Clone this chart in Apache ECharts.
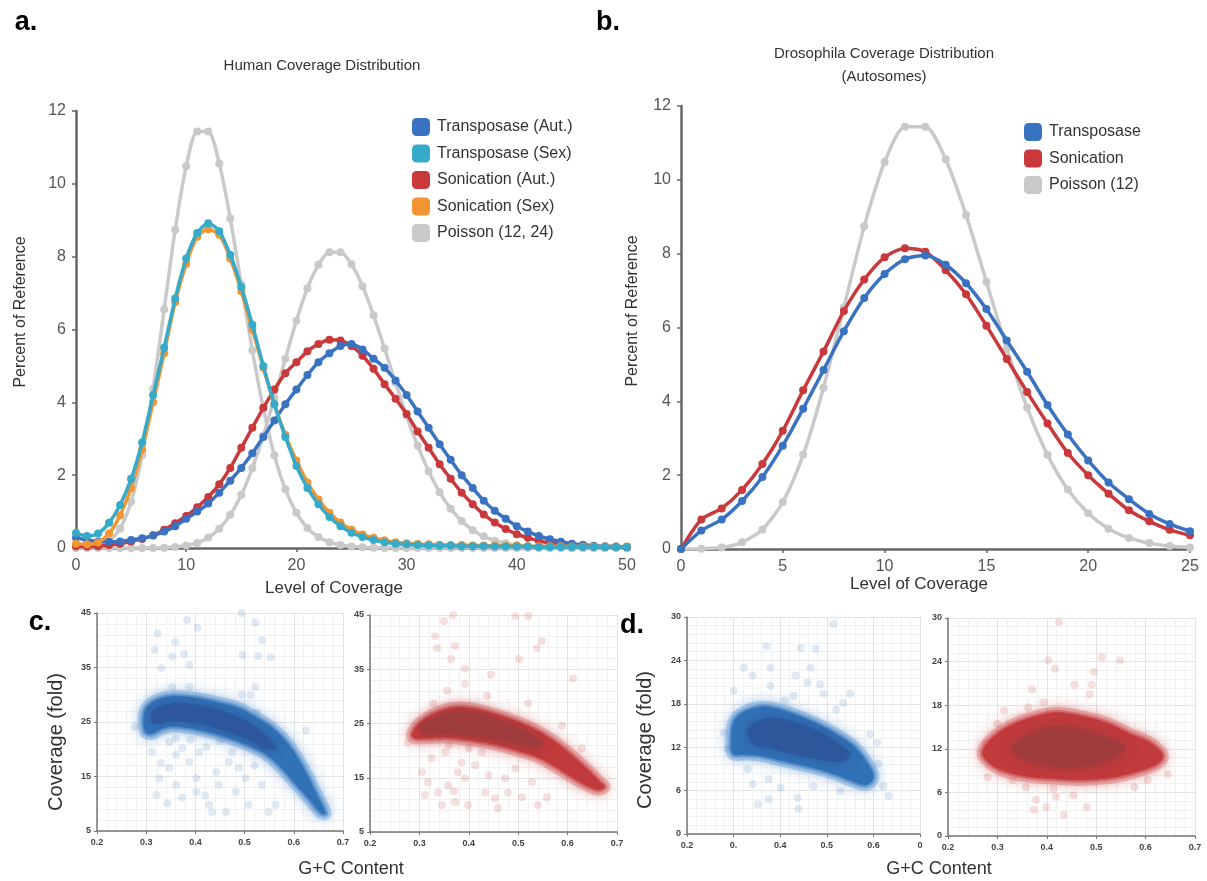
<!DOCTYPE html>
<html>
<head>
<meta charset="utf-8">
<script src="https://cdn.jsdelivr.net/npm/echarts@6/dist/echarts.min.js"></script>
<style>html,body{margin:0;padding:0;background:#fff}#c{width:1207px;height:881px}</style>
</head>
<body>
<div id="c"></div>
<script>
// ---------- DATA ----------
const levelsA = [0,1,2,3,4,5,6,7,8,9,10,11,12,13,14,15,16,17,18,19,20,21,22,23,24,25,26,27,28,29,30,31,32,33,34,35,36,37,38,39,40,41,42,43,44,45,46,47,48,49,50];
const transAut = [0.28,0.22,0.18,0.17,0.18,0.22,0.27,0.34,0.45,0.60,
  0.80,1.00,1.22,1.52,1.85,2.20,2.60,3.05,3.50,3.95,
  4.35,4.75,5.10,5.35,5.55,5.60,5.45,5.20,4.95,4.60,
  4.20,3.75,3.30,2.85,2.42,2.00,1.65,1.30,1.02,0.80,
  0.60,0.45,0.33,0.24,0.17,0.12,0.09,0.06,0.05,0.04,0.03];
const transSex = [0.41,0.33,0.40,0.69,1.18,1.90,2.90,4.20,5.50,6.85,
  7.95,8.65,8.92,8.70,8.05,7.17,6.13,5.00,3.95,3.05,
  2.25,1.65,1.20,0.85,0.60,0.42,0.30,0.22,0.16,0.12,
  0.10,0.08,0.07,0.06,0.06,0.05,0.05,0.05,0.04,0.04,
  0.04,0.04,0.03,0.03,0.03,0.03,0.03,0.03,0.03,0.03,0.03];
const sonAut = [0.05,0.04,0.05,0.08,0.12,0.18,0.25,0.35,0.50,0.68,
  0.88,1.12,1.40,1.75,2.20,2.75,3.30,3.85,4.35,4.80,
  5.10,5.40,5.60,5.72,5.70,5.55,5.28,4.92,4.50,4.10,
  3.68,3.20,2.75,2.30,1.90,1.52,1.20,0.92,0.70,0.52,
  0.38,0.28,0.20,0.14,0.10,0.07,0.05,0.04,0.03,0.03,0.02];
const sonSex = [0.12,0.10,0.15,0.40,0.90,1.65,2.70,4.00,5.35,6.75,
  7.80,8.55,8.75,8.60,7.95,7.05,6.00,4.95,3.95,3.10,
  2.40,1.80,1.33,0.97,0.70,0.50,0.37,0.28,0.21,0.16,
  0.13,0.11,0.10,0.09,0.08,0.08,0.07,0.07,0.06,0.06,
  0.06,0.05,0.05,0.05,0.05,0.04,0.04,0.04,0.04,0.04,0.04];
const poisson12 = [0.00,0.01,0.04,0.18,0.53,1.27,2.55,4.37,6.55,8.74,
  10.48,11.44,11.44,10.56,9.05,7.24,5.43,3.83,2.55,1.61,
  0.97,0.55,0.30,0.16,0.08,0.04,0.02,0.01,0.00,0.00,
  0,0,0,0,0,0,0,0,0,0,
  0,0,0,0,0,0,0,0,0,0,0];
const poisson24 = [0,0,0,0,0,0,0,0.00,0.01,0.03,
  0.07,0.14,0.29,0.53,0.91,1.46,2.19,3.09,4.12,5.20,
  6.24,7.13,7.78,8.12,8.12,7.79,7.19,6.39,5.48,4.54,
  3.63,2.81,2.11,1.53,1.08,0.74,0.49,0.32,0.20,0.13,
  0.08,0.04,0.03,0.01,0.01,0.00,0,0,0,0,0];

const levelsB = [0,1,2,3,4,5,6,7,8,9,10,11,12,13,14,15,16,17,18,19,20,21,22,23,24,25];
const transB = [0,0.50,0.80,1.30,1.95,2.80,3.80,4.85,5.90,6.80,7.45,7.85,7.95,7.70,7.20,6.50,5.65,4.80,3.90,3.10,2.40,1.80,1.35,0.95,0.68,0.48];
const sonB = [0,0.80,1.10,1.60,2.30,3.20,4.30,5.35,6.45,7.30,7.90,8.15,8.05,7.55,6.90,6.05,5.15,4.25,3.40,2.60,2.00,1.50,1.05,0.75,0.52,0.37];
const poissonB = [0.00,0.01,0.04,0.18,0.53,1.27,2.55,4.37,6.55,8.74,10.48,11.44,11.44,10.56,9.05,7.24,5.43,3.83,2.55,1.61,0.97,0.55,0.30,0.16,0.08,0.04];

const legendA = ['Transposase (Aut.)','Transposase (Sex)','Sonication (Aut.)','Sonication (Sex)','Poisson (12, 24)'];
const legendB = ['Transposase','Sonication','Poisson (12)'];

const scatterXTicks = ['0.2','0.3','0.4','0.5','0.6','0.7'];
const dLeftXTicks = ['0.2','0.','0.4','0.5','0.6','0'];

// scatter cloud outlines (G+C, coverage) and sparse outliers
const cLeftOutline = [[0.295,25.5],[0.30,27.5],[0.32,29.0],[0.35,29.7],[0.40,29.4],[0.45,28.5],[0.49,27.5],[0.52,26.0],[0.555,24.0],[0.59,20.8],[0.62,16.5],[0.645,12.0],[0.665,8.2],[0.655,8.3],[0.63,11.0],[0.60,14.0],[0.57,17.0],[0.54,19.3],[0.50,21.0],[0.46,22.3],[0.42,23.3],[0.38,24.0],[0.35,24.2],[0.33,23.7],[0.31,22.8],[0.298,23.2]];
const cLeftCore = [[0.31,26.8],[0.35,28.4],[0.40,28.2],[0.45,27.2],[0.50,25.4],[0.54,22.8],[0.565,20.3],[0.55,19.8],[0.50,22.0],[0.45,23.6],[0.40,24.8],[0.35,25.1],[0.315,24.6]];
const cLeftOutliers = [[0.494,45.0],[0.383,43.7],[0.404,42.3],[0.323,41.3],[0.359,39.7],[0.522,43.2],[0.535,40.0],[0.317,38.2],[0.353,37.0],[0.377,37.5],[0.388,35.5],[0.331,34.9],[0.496,37.3],[0.528,37.1],[0.553,36.9],[0.522,31.4],[0.494,30.1],[0.512,30.0],[0.353,31.4],[0.388,31.4],[0.525,26.8],[0.277,24.1],[0.625,23.5],
  [0.311,19.5],[0.347,21.3],[0.373,20.2],[0.422,20.4],[0.474,19.5],[0.347,16.6],[0.388,17.7],[0.402,14.7],[0.361,13.5],[0.321,11.6],[0.343,10.1],[0.402,12.2],[0.428,9.8],[0.462,8.5],[0.434,8.5],[0.482,12.2],[0.502,14.7],[0.535,13.5],[0.549,8.5],[0.563,9.8],[0.442,15.8],[0.468,17.7],[0.327,14.7],[0.373,11.1],[0.508,9.8],[0.408,19.5],[0.448,13.5],[0.361,19.0],[0.488,16.6],[0.36,22.0],[0.39,21.8],[0.45,21.5],[0.33,17.5],[0.42,11.5],[0.52,17.0]];

const cRightOutline = [[0.285,23.0],[0.30,25.0],[0.33,26.8],[0.37,27.9],[0.41,27.7],[0.46,26.5],[0.52,24.5],[0.56,22.5],[0.60,19.8],[0.64,16.5],[0.665,14.2],[0.675,13.3],[0.66,12.8],[0.62,14.5],[0.58,16.8],[0.54,18.8],[0.50,20.0],[0.45,21.2],[0.40,22.0],[0.35,22.4],[0.31,22.3],[0.29,22.3]];
const cRightCore = [[0.30,24.3],[0.33,26.1],[0.37,27.3],[0.41,27.1],[0.46,25.8],[0.52,23.4],[0.55,21.4],[0.54,20.5],[0.50,21.2],[0.45,22.0],[0.40,22.7],[0.35,23.1],[0.31,23.0]];
const cRightOutliers = [[0.494,44.8],[0.520,44.8],[0.368,45.0],[0.350,43.9],[0.332,41.1],[0.372,39.3],[0.336,38.9],[0.364,36.9],[0.392,35.1],[0.548,40.2],[0.538,38.9],[0.502,36.9],[0.445,34.0],[0.611,33.3],[0.356,31.1],[0.392,32.3],[0.437,30.1],[0.520,28.7],[0.589,24.6],[0.629,20.4],[0.277,21.5],[0.328,28.7],
  [0.305,16.0],[0.352,19.7],[0.386,17.8],[0.358,13.6],[0.338,12.3],[0.311,11.8],[0.392,14.9],[0.413,17.3],[0.433,12.3],[0.453,11.2],[0.459,9.4],[0.473,14.9],[0.508,11.4],[0.540,10.0],[0.558,11.4],[0.528,14.2],[0.346,10.0],[0.372,10.5],[0.398,10.0],[0.378,16.0],[0.494,16.7],[0.427,19.7],[0.325,18.6],[0.479,12.3],[0.317,14.2],[0.36,21.0],[0.40,20.5],[0.37,12.5],[0.44,15.5]];

const dLeftOutline = [[0.295,12.0],[0.30,15.5],[0.32,16.8],[0.36,17.6],[0.40,17.2],[0.44,16.3],[0.48,15.2],[0.52,13.8],[0.56,12.0],[0.59,9.5],[0.60,7.8],[0.585,6.8],[0.56,7.2],[0.52,8.2],[0.48,9.0],[0.44,9.6],[0.40,10.2],[0.36,10.8],[0.32,11.0],[0.30,11.0]];
const dLeftCore = [[0.33,14.5],[0.37,16.0],[0.42,15.7],[0.47,14.6],[0.52,12.8],[0.55,11.0],[0.53,10.0],[0.48,10.3],[0.43,11.0],[0.38,11.8],[0.34,12.5]];
const dLeftOutliers = [[0.514,29.0],[0.371,26.0],[0.444,25.7],[0.476,25.6],[0.322,23.0],[0.341,21.9],[0.379,23.0],[0.465,23.0],[0.433,21.9],[0.459,20.9],[0.486,20.7],[0.379,20.5],[0.300,19.8],[0.493,19.4],[0.550,19.4],[0.535,18.1],[0.429,19.1],[0.279,14.0],[0.287,11.8],[0.593,13.8],[0.608,12.6],[0.610,9.7],[0.621,6.6],[0.632,5.3],[0.341,6.9],[0.375,7.6],[0.352,4.1],[0.375,4.8],[0.437,5.0],[0.439,3.5],[0.401,6.4],[0.471,6.6],[0.529,5.9],[0.330,9.0],[0.41,18.5],[0.52,17.2]];

const dRightOutline = [[0.27,11.5],[0.29,13.5],[0.33,15.3],[0.38,16.5],[0.42,17.0],[0.47,16.5],[0.52,15.6],[0.57,14.0],[0.61,12.8],[0.635,11.0],[0.62,9.8],[0.58,8.8],[0.53,8.0],[0.47,7.7],[0.41,7.9],[0.36,8.2],[0.31,9.0],[0.28,10.3]];
const dRightCore = [[0.33,12.2],[0.37,14.2],[0.42,15.0],[0.47,14.6],[0.52,13.6],[0.56,12.2],[0.53,10.6],[0.48,9.6],[0.43,9.4],[0.38,10.0],[0.34,11.0]];
const dRightOutliers = [[0.425,29.4],[0.403,24.2],[0.417,23.0],[0.511,24.6],[0.548,24.2],[0.495,22.6],[0.456,20.8],[0.491,20.8],[0.487,19.5],[0.370,20.2],[0.362,17.7],[0.313,17.3],[0.393,18.4],[0.300,15.4],[0.276,12.7],[0.280,8.1],[0.645,8.5],[0.624,11.3],[0.378,5.0],[0.399,4.0],[0.419,5.4],[0.434,2.9],[0.454,5.6],[0.374,3.6],[0.413,6.5],[0.481,4.0],[0.358,6.7],[0.577,6.7],[0.604,7.7],[0.331,7.7]];

// ---------- STYLES ----------
const FONT = "'Liberation Sans', Arial, Helvetica, sans-serif";
const C_BLUE = '#3a72c2', C_TEAL = '#36aac9', C_RED = '#c9393b', C_ORANGE = '#f39530', C_GRAY = '#c9c9c9';

function pairs(xs, ys){ return ys.map((v,i)=>[xs[i], v]); }

function lineSeries(name, xi, xs, ys, color, z){
  return {
    type:'line', name, xAxisIndex:xi, yAxisIndex:xi,
    data: pairs(xs, ys), smooth:0.25, symbol:'circle', symbolSize:8,
    itemStyle:{color}, lineStyle:{color, width:3.5}, z:z||2,
    emphasis:{disabled:true}, animation:false
  };
}

function mainAxes(gi, xmax, xint){
  return {
    x:{gridIndex:gi, type:'value', min:0, max:xmax, interval:xint,
      axisLine:{show:true, onZero:false, lineStyle:{color:'#666', width:2.5}},
      axisTick:{show:true, length:4, lineStyle:{color:'#666', width:1.5}},
      axisLabel:{fontFamily:FONT, fontSize:16, color:'#555', margin:10},
      splitLine:{show:false}},
    y:{gridIndex:gi, type:'value', min:0, max:12, interval:2,
      axisLine:{show:true, onZero:false, lineStyle:{color:'#666', width:2.5}},
      axisTick:{show:true, length:4, lineStyle:{color:'#666', width:1.5}},
      axisLabel:{fontFamily:FONT, fontSize:16, color:'#555', margin:10},
      splitLine:{show:false}}
  };
}

function scatterAxes(gi, ymin, ymax, yint, xlabels){
  return {
    x:{gridIndex:gi, type:'value', min:0.2, max:0.7, interval:0.1,
      axisLine:{show:true, onZero:false, lineStyle:{color:'#777', width:1.5}},
      axisTick:{show:true, length:3, lineStyle:{color:'#777'}},
      axisLabel:{fontFamily:FONT, fontSize:9, fontWeight:'bold', color:'#444', margin:7,
        formatter:(v)=>xlabels[Math.round((v-0.2)/0.1)]},
      splitLine:{show:true, lineStyle:{color:'#e3e3e3', width:1}},
      minorTick:{show:false, splitNumber:5},
      minorSplitLine:{show:true, lineStyle:{color:'#f1f1f1', width:1}}},
    y:{gridIndex:gi, type:'value', min:ymin, max:ymax, interval:yint,
      axisLine:{show:true, onZero:false, lineStyle:{color:'#777', width:1.5}},
      axisTick:{show:true, length:3, lineStyle:{color:'#777'}},
      axisLabel:{fontFamily:FONT, fontSize:9, fontWeight:'bold', color:'#444', margin:6},
      splitLine:{show:true, lineStyle:{color:'#e3e3e3', width:1}},
      minorTick:{show:false, splitNumber:5},
      minorSplitLine:{show:true, lineStyle:{color:'#f1f1f1', width:1}}}
  };
}

function blobSeries(gi, outline, core, halo, edge, coreColor, coreOpacity){
  return {
    type:'custom', xAxisIndex:gi, yAxisIndex:gi, data: outline, clip:true, z:3,
    silent:true, animation:false,
    renderItem:(params, api)=>{
      if (params.dataIndex !== 0) return null;
      const pts = outline.map(p=>api.coord(p));
      const cpts = core.map(p=>api.coord(p));
      return {type:'group', children:[
        {type:'polygon', shape:{points:pts, smooth:0.35},
          style:{fill:halo, stroke:halo, lineWidth:12, opacity:0.3, shadowBlur:14, shadowColor:halo}},
        {type:'polygon', shape:{points:pts, smooth:0.35},
          style:{fill:halo, stroke:halo, lineWidth:5, opacity:0.45, shadowBlur:6, shadowColor:halo}},
        {type:'polygon', shape:{points:pts, smooth:0.35},
          style:{fill:edge, opacity:0.95, shadowBlur:3, shadowColor:edge}},
        {type:'polygon', shape:{points:cpts, smooth:0.35},
          style:{fill:coreColor, opacity:coreOpacity, shadowBlur:12, shadowColor:coreColor}}
      ]};
    }
  };
}

function outlierSeries(gi, pts, color){
  return {type:'scatter', xAxisIndex:gi, yAxisIndex:gi, data:pts, symbolSize:8, z:2,
    itemStyle:{color}, silent:true, animation:false};
}

const aAx = mainAxes(0, 50, 10), bAx = mainAxes(1, 25, 5);
const c1 = scatterAxes(2, 5, 45, 10, scatterXTicks), c2 = scatterAxes(3, 5, 45, 10, scatterXTicks);
const d1 = scatterAxes(4, 0, 30, 6, dLeftXTicks), d2 = scatterAxes(5, 0, 30, 6, scatterXTicks);

function txt(x, y, text, size, opts){
  return Object.assign({type:'text', x, y, silent:true,
    style:Object.assign({text, fontFamily:FONT, fontSize:size, fill:'#333', align:'center', verticalAlign:'middle'}, (opts&&opts.style)||{})},
    opts&&opts.extra||{});
}

const option = {
  backgroundColor:'#fff',
  animation:false,
  grid:[
    {left:76, top:111, width:551, height:437},
    {left:681, top:106, width:509, height:443},
    {left:97, top:613, width:246, height:218},
    {left:370, top:615, width:247, height:217},
    {left:687, top:617, width:233, height:217},
    {left:948, top:618, width:247, height:218}
  ],
  xAxis:[aAx.x, bAx.x, c1.x, c2.x, d1.x, d2.x],
  yAxis:[aAx.y, bAx.y, c1.y, c2.y, d1.y, d2.y],
  legend:[
    {data:legendA, orient:'vertical', left:407, top:113, icon:'roundRect', itemWidth:18, itemHeight:18, itemGap:8.5,
      selectedMode:false, textStyle:{fontFamily:FONT, fontSize:16, color:'#333', padding:[0,0,0,2]}},
    {data:legendB, orient:'vertical', left:1019, top:118, icon:'roundRect', itemWidth:18, itemHeight:18, itemGap:8.5,
      selectedMode:false, textStyle:{fontFamily:FONT, fontSize:16, color:'#333', padding:[0,0,0,2]}}
  ],
  series:[
    lineSeries('Poisson (12, 24)', 0, levelsA, poisson12, C_GRAY, 1),
    lineSeries('Poisson (12, 24)', 0, levelsA, poisson24, C_GRAY, 1),
    lineSeries('Sonication (Aut.)', 0, levelsA, sonAut, C_RED, 2),
    lineSeries('Transposase (Aut.)', 0, levelsA, transAut, C_BLUE, 3),
    lineSeries('Sonication (Sex)', 0, levelsA, sonSex, C_ORANGE, 4),
    lineSeries('Transposase (Sex)', 0, levelsA, transSex, C_TEAL, 5),
    lineSeries('Poisson (12)', 1, levelsB, poissonB, C_GRAY, 1),
    lineSeries('Sonication', 1, levelsB, sonB, C_RED, 2),
    lineSeries('Transposase', 1, levelsB, transB, C_BLUE, 3),
    outlierSeries(2, cLeftOutliers, 'rgba(80,135,200,0.22)'),
    blobSeries(2, cLeftOutline, cLeftCore, '#4c8ccc', '#3271b5', '#2d549a', 0.75),
    outlierSeries(3, cRightOutliers, 'rgba(205,75,75,0.22)'),
    blobSeries(3, cRightOutline, cRightCore, '#d05557', '#c13a3c', '#9e3b3c', 0.95),
    outlierSeries(4, dLeftOutliers, 'rgba(80,135,200,0.22)'),
    blobSeries(4, dLeftOutline, dLeftCore, '#4c8ccc', '#3271b5', '#2d549a', 0.75),
    outlierSeries(5, dRightOutliers, 'rgba(205,75,75,0.22)'),
    blobSeries(5, dRightOutline, dRightCore, '#d05557', '#c13a3c', '#9e3b3c', 0.95)
  ],
  graphic:[
    txt(26, 23, 'a.', 27, {style:{fontWeight:'bold', fill:'#000'}}),
    txt(608, 23, 'b.', 27, {style:{fontWeight:'bold', fill:'#000'}}),
    txt(40, 623, 'c.', 27, {style:{fontWeight:'bold', fill:'#000'}}),
    txt(632, 626, 'd.', 27, {style:{fontWeight:'bold', fill:'#000'}}),
    txt(322, 66, 'Human Coverage Distribution', 15),
    txt(884, 54, 'Drosophila Coverage Distribution', 15),
    txt(884, 77, '(Autosomes)', 15),
    txt(334, 588, 'Level of Coverage', 17),
    txt(919, 584, 'Level of Coverage', 17),
    txt(21, 312, 'Percent of Reference', 16, {extra:{rotation:Math.PI/2}}),
    txt(633, 311, 'Percent of Reference', 16, {extra:{rotation:Math.PI/2}}),
    txt(56, 742, 'Coverage (fold)', 20, {extra:{rotation:Math.PI/2}}),
    txt(645, 740, 'Coverage (fold)', 20, {extra:{rotation:Math.PI/2}}),
    txt(351, 869, 'G+C Content', 18),
    txt(939, 869, 'G+C Content', 18)
  ]
};

const chart = echarts.init(document.getElementById('c'), null, {renderer:'canvas'});
chart.setOption(option);
</script>
</body>
</html>
